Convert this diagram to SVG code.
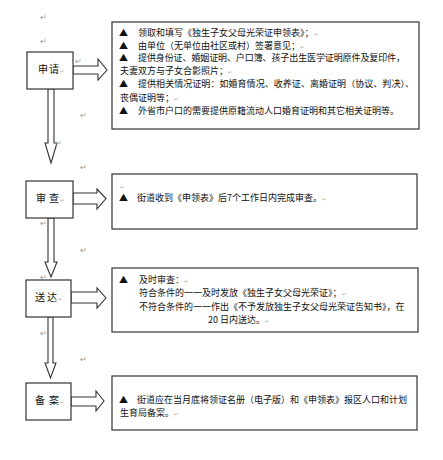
<svg xmlns="http://www.w3.org/2000/svg" width="443" height="460" viewBox="0 0 443 460">
<style>
  .box{fill:#fff;stroke:#333;stroke-width:1.2}
  .arr{fill:#fff;stroke:#333;stroke-width:1.1;stroke-linejoin:miter}
  text{font-family:"Noto Sans CJK SC","Liberation Sans",sans-serif;fill:#111}
  .t{font-size:9px}
  .lbl{font-size:10px;text-anchor:middle}
  .pm{font-size:8px;fill:#999}
  .pm2{font-size:5px;fill:#aaa}
</style>
<rect width="443" height="460" fill="#fff"/>

<g id="connectors">
  <polygon class="arr" points="73,66 98,66 98,59 107,70 98,80 98,74 73,74"/>
  <polygon class="arr" points="48,89 54,89 54,143 57,143 51,163 45,143 48,143"/>
  <polygon class="arr" points="73,193 97,193 97,189 106,198.5 97,209 97,204 73,204"/>
  <polygon class="arr" points="48,218 54,218 54,262 57,262 51,277 45,262 48,262"/>
  <polygon class="arr" points="71,292 97,292 97,288 106,298 97,308 97,303 71,303"/>
  <polygon class="arr" points="48,317 53,317 53,363 56,363 50.5,378 45,363 48,363"/>
  <polygon class="arr" points="71,397 96,397 96,391 104,401 96,411 96,406 71,406"/>
</g>

<g id="node-apply">
  <rect class="box" x="27" y="52" width="46" height="37"/>
  <text class="lbl" x="43" y="73">申</text>
  <text class="lbl" x="54" y="73">请</text>
  <text class="pm2" x="60" y="73">↵</text>
</g>
<g id="node-review">
  <rect class="box" x="26" y="181" width="47" height="37"/>
  <text class="lbl" x="41" y="202">审</text>
  <text class="lbl" x="54" y="202">查</text>
  <text class="pm2" x="60" y="202">↵</text>
</g>
<g id="node-deliver">
  <rect class="box" x="26" y="280" width="45" height="37"/>
  <text class="lbl" x="40" y="301">送</text>
  <text class="lbl" x="52" y="301">达</text>
  <text class="pm2" x="58" y="301">↵</text>
</g>
<g id="node-file">
  <rect class="box" x="26" y="383" width="45" height="37"/>
  <text class="lbl" x="40" y="404">备</text>
  <text class="lbl" x="54" y="404">案</text>
  <text class="pm2" x="60" y="404">↵</text>
</g>

<g id="text-apply">
  <rect class="box" x="112" y="22" width="307" height="107"/>
  <text class="t" x="119" y="36">▲</text>
  <text class="t" x="138" y="36">领取和填写《独生子女父母光荣证申领表》；<tspan class="pm2">↵</tspan></text>
  <text class="t" x="119" y="48.5">▲</text>
  <text class="t" x="138" y="48.5">由单位（无单位由社区或村）签署意见；<tspan class="pm2">↵</tspan></text>
  <text class="t" x="119" y="61">▲</text>
  <text class="t" x="138" y="61" textLength="267">提供身份证、婚姻证明、户口簿、孩子出生医学证明原件及复印件，</text>
  <text class="t" x="120" y="74">夫妻双方与子女合影照片；<tspan class="pm2">↵</tspan></text>
  <text class="t" x="119" y="86.5">▲</text>
  <text class="t" x="138" y="86.5" textLength="276">提供相关情况证明：如婚育情况、收养证、离婚证明（协议、判决）、</text>
  <text class="t" x="120" y="100.5">丧偶证明等；<tspan class="pm2">↵</tspan></text>
  <text class="t" x="119" y="113.5">▲</text>
  <text class="t" x="138" y="113.5">外省市户口的需要提供原籍流动人口婚育证明和其它相关证明等。</text>
</g>

<g id="text-review">
  <rect class="box" x="112" y="174" width="305" height="55"/>
  <text class="pm2" x="120" y="189">↵</text>
  <text class="t" x="119" y="201">▲</text>
  <text class="t" x="137" y="201">街道收到《申领表》后7个工作日内完成审查。<tspan class="pm2">↵</tspan></text>
</g>

<g id="text-deliver">
  <rect class="box" x="112" y="268" width="306" height="64"/>
  <text class="t" x="119" y="283">▲</text>
  <text class="t" x="139" y="283">及时审查：<tspan class="pm2">↵</tspan></text>
  <text class="t" x="139" y="296">符合条件的一一及时发放《独生子女父母光荣证》；<tspan class="pm2">↵</tspan></text>
  <text class="t" x="139" y="310">不符合条件的一一作出《不予发放独生子女父母光荣证告知书》，在</text>
  <text class="t" x="208" y="323">20 日内送达。<tspan class="pm2">↵</tspan></text>
</g>

<g id="text-file">
  <rect class="box" x="112" y="376" width="305" height="54"/>
  <text class="t" x="119" y="403">▲</text>
  <text class="t" x="137" y="403">街道应在当月底将领证名册（电子版）和《申领表》报区人口和计划</text>
  <text class="t" x="120" y="416">生育局备案。<tspan class="pm2">↵</tspan></text>
</g>

<g id="marks">
  <text class="pm" x="40" y="20">↵</text>
  <text class="pm" x="40" y="44">↵</text>
  <text class="pm" x="75" y="64">↵</text>
  <text class="pm" x="80" y="118">↵</text>
  <text class="pm" x="55" y="146">↵</text>
  <text class="pm" x="80" y="170">↵</text>
  <text class="pm" x="40" y="226">↵</text>
  <text class="pm" x="80" y="253">↵</text>
  <text class="pm" x="40" y="280">↵</text>
  <text class="pm" x="40" y="336">↵</text>
  <text class="pm" x="80" y="362">↵</text>
</g>
</svg>
